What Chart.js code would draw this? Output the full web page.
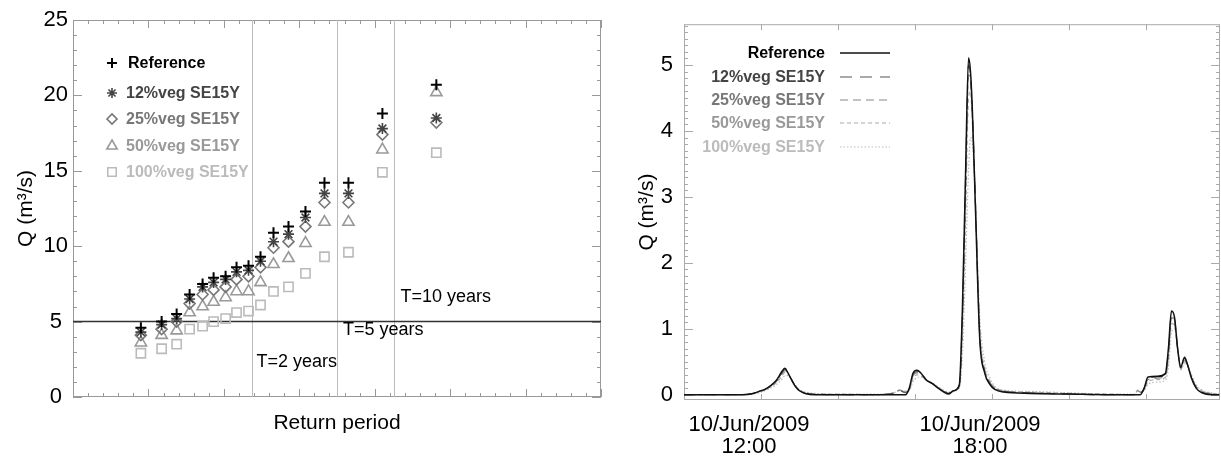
<!DOCTYPE html>
<html>
<head>
<meta charset="utf-8">
<script src="https://cdn.jsdelivr.net/npm/chart.js@4/dist/chart.umd.min.js"></script>
<style>
  body { margin: 0; background: #fff; width: 1221px; height: 459px; position: relative; overflow: hidden; }
  canvas { position: absolute; top: 0; }
  #left { left: 0; }
  #right { left: 620px; }
</style>
</head>
<body>
<canvas id="left" width="620" height="459"></canvas>
<canvas id="right" width="601" height="459"></canvas>
<script>
// ---- left panel: peak discharge vs return period (Gumbel reduced variate) ----
const seriesNames = ['Reference', '12%veg SE15Y', '25%veg SE15Y', '50%veg SE15Y', '100%veg SE15Y'];
const returnX = [-1.10, -0.825, -0.626, -0.454, -0.282, -0.136, 0.023, 0.168, 0.327, 0.486, 0.658, 0.857, 1.082, 1.334, 1.652, 2.102, 2.817];
const peakRef    = [4.6, 5.0, 5.5, 6.8, 7.5, 7.9, 8.0, 8.6, 8.7, 9.3, 10.9, 11.3, 12.3, 14.2, 14.2, 18.8, 20.7];
const peakVeg12  = [4.3, 4.8, 5.2, 6.5, 7.3, 7.6, 7.8, 8.3, 8.4, 9.0, 10.3, 10.8, 11.9, 13.5, 13.5, 17.8, 18.5];
const peakVeg25  = [4.1, 4.5, 5.0, 6.2, 6.8, 7.1, 7.3, 7.8, 8.0, 8.6, 9.9, 10.3, 11.3, 12.9, 12.9, 17.4, 18.2];
const peakVeg50  = [3.6, 4.1, 4.4, 5.6, 6.0, 6.3, 6.6, 7.0, 7.0, 7.6, 8.8, 9.2, 10.2, 11.6, 11.6, 16.4, 20.2];
const peakVeg100 = [2.9, 3.2, 3.5, 4.5, 4.7, 5.0, 5.2, 5.6, 5.7, 6.1, 7.0, 7.3, 8.2, 9.3, 9.6, 14.9, 16.2];
const peakSeries = [peakRef, peakVeg12, peakVeg25, peakVeg50, peakVeg100];
const returnLines = [0.367, 1.5, 2.25];
const returnLineLabels = ['T=2 years', 'T=5 years', 'T=10 years'];
const thresholdQ = 5;

// ---- right panel: hydrograph, hours of 10/Jun/2009 ----
const hours = [10.0, 11.0, 11.5, 11.8, 11.95, 12.1, 12.25, 12.4, 12.55, 12.62,
  12.7, 12.8, 12.9, 13.0, 13.15, 13.4, 14.0, 15.0, 15.45, 15.6,
  15.75, 15.85, 15.95, 16.05, 16.15, 16.3, 16.45, 16.6, 16.75, 16.87,
  17.0, 17.15, 17.23, 17.31, 17.39, 17.44, 17.49, 17.57, 17.68, 17.81,
  17.95, 18.07, 18.3, 19.0, 20.0, 21.0, 21.7, 21.78, 21.85, 21.95,
  22.05, 22.3, 22.5, 22.58, 22.66, 22.74, 22.82, 22.9, 23.0, 23.08,
  23.18, 23.3, 23.45, 23.7, 23.9];
const flowRef = [0, 0, 0, 0.02, 0.05, 0.08, 0.14, 0.22, 0.36, 0.40,
  0.33, 0.22, 0.12, 0.06, 0.02, 0, 0, 0, 0, 0,
  0, 0.10, 0.33, 0.37, 0.33, 0.22, 0.17, 0.10, 0.04, 0.01,
  0.06, 0.15, 1.3, 3.3, 5.11, 4.9, 4.3, 2.8, 0.85, 0.33,
  0.15, 0.08, 0.04, 0.02, 0.01, 0, 0, 0, 0, 0.1,
  0.27, 0.28, 0.32, 0.7, 1.27, 1.17, 0.7, 0.42, 0.57, 0.45,
  0.25, 0.1, 0.03, 0, 0];
const flowVeg12 = [0, 0, 0, 0.02, 0.05, 0.08, 0.13, 0.21, 0.34, 0.39,
  0.33, 0.22, 0.12, 0.06, 0.02, 0.01, 0, 0, 0.02, 0.06,
  0.03, 0.09, 0.31, 0.35, 0.32, 0.22, 0.17, 0.10, 0.05, 0.02,
  0.06, 0.14, 1.2, 3.2, 5.0, 4.85, 4.3, 2.9, 0.9, 0.35,
  0.17, 0.09, 0.05, 0.03, 0.01, 0, 0, 0.05, 0.03, 0.09,
  0.25, 0.27, 0.3, 0.65, 1.22, 1.14, 0.7, 0.41, 0.55, 0.45,
  0.26, 0.11, 0.04, 0.01, 0];
const flowVeg25 = [0, 0, 0, 0.02, 0.05, 0.08, 0.13, 0.2, 0.32, 0.37,
  0.32, 0.22, 0.12, 0.06, 0.03, 0.01, 0, 0, 0.03, 0.07,
  0.04, 0.08, 0.29, 0.33, 0.31, 0.22, 0.17, 0.11, 0.05, 0.02,
  0.06, 0.13, 1.1, 3.0, 4.85, 4.75, 4.2, 2.9, 0.95, 0.37,
  0.18, 0.1, 0.05, 0.03, 0.01, 0, 0, 0.06, 0.04, 0.08,
  0.23, 0.25, 0.28, 0.6, 1.17, 1.1, 0.7, 0.4, 0.53, 0.44,
  0.27, 0.12, 0.05, 0.01, 0];
const flowVeg50 = [0, 0, 0, 0.02, 0.04, 0.07, 0.12, 0.18, 0.29, 0.34,
  0.31, 0.22, 0.13, 0.07, 0.03, 0.01, 0.01, 0, 0.03, 0.07,
  0.05, 0.07, 0.25, 0.30, 0.29, 0.22, 0.17, 0.11, 0.06, 0.03,
  0.06, 0.12, 0.9, 2.6, 4.5, 4.6, 4.1, 2.9, 1.0, 0.4,
  0.2, 0.11, 0.06, 0.04, 0.02, 0.01, 0, 0.07, 0.05, 0.07,
  0.2, 0.23, 0.26, 0.52, 1.08, 1.05, 0.68, 0.38, 0.5, 0.44,
  0.28, 0.13, 0.06, 0.02, 0.01];
const flowVeg100 = [0, 0, 0, 0.01, 0.03, 0.06, 0.1, 0.15, 0.24, 0.29,
  0.29, 0.22, 0.14, 0.08, 0.04, 0.02, 0.01, 0.01, 0.03, 0.06,
  0.05, 0.06, 0.2, 0.26, 0.27, 0.22, 0.18, 0.12, 0.07, 0.04,
  0.06, 0.1, 0.6, 1.9, 3.4, 3.9, 3.8, 2.9, 1.2, 0.5,
  0.25, 0.13, 0.07, 0.05, 0.03, 0.01, 0.01, 0.06, 0.05, 0.06,
  0.16, 0.19, 0.22, 0.4, 0.95, 1.0, 0.68, 0.38, 0.47, 0.43,
  0.3, 0.15, 0.07, 0.03, 0.01];
const flowSeries = [flowRef, flowVeg12, flowVeg25, flowVeg50, flowVeg100];
const timeTickHours = [12, 18];
const timeTickText = [['10/Jun/2009', '12:00'], ['10/Jun/2009', '18:00']];

// styles
const FONT = "'Liberation Sans', Arial, Helvetica, sans-serif";
Chart.defaults.font.family = FONT;
Chart.defaults.color = '#000';
const markerStyles = ['cross', 'star', 'rectRot', 'triangle', 'rect'];
const markerSizes = [5.5, 5.5, 5.5, 6.5, 6.5];
const markerColors = ['#000', '#444', '#777', '#999', '#bbb'];
const lineColors = ['#111', '#555', '#888', '#aaa', '#bbb'];
const lineDashes = [[], [12, 8], [8, 5], [4, 3], [1.5, 2]];
const legendTextColors = ['#000', '#444', '#777', '#999', '#bbb'];

// inward ticks on all four sides plus the box
function drawBox(chart, o) {
  const {ctx, chartArea: a, scales: {x, y}} = chart;
  ctx.save();
  ctx.strokeStyle = o.color;
  ctx.lineWidth = 1;
  ctx.strokeRect(a.left + 0.5, a.top + 0.5, a.right - a.left - 1, a.bottom - a.top - 1);
  ctx.beginPath();
  const isMajor = (v, step) => Math.abs(v / step - Math.round(v / step)) < 1e-6;
  for (let k = Math.ceil(x.min / o.xMinor - 1e-9); k * o.xMinor <= x.max + 1e-9; k++) {
    const v = k * o.xMinor;
    const len = isMajor(v, o.xMajor) ? o.xLen : o.minLen;
    const px = Math.round(x.getPixelForValue(v)) + 0.5;
    ctx.moveTo(px, a.bottom); ctx.lineTo(px, a.bottom - len);
    ctx.moveTo(px, a.top); ctx.lineTo(px, a.top + len);
  }
  for (let k = Math.ceil(y.min / o.yMinor - 1e-9); k * o.yMinor <= y.max + 1e-9; k++) {
    const v = k * o.yMinor;
    const len = isMajor(v, o.yMajor) ? o.yLen : o.minLen;
    const py = Math.round(y.getPixelForValue(v)) + 0.5;
    ctx.moveTo(a.left, py); ctx.lineTo(a.left + len, py);
    ctx.moveTo(a.right, py); ctx.lineTo(a.right - len, py);
  }
  ctx.stroke();
  ctx.restore();
}

const leftDecor = {
  id: 'leftDecor',
  beforeDatasetsDraw(chart) {
    const {ctx, chartArea: a, scales: {x, y}} = chart;
    drawBox(chart, {color: '#999', xMajor: 1, xMinor: 0.2, yMajor: 5, yMinor: 1, xLen: 8, yLen: 9, minLen: 4});
    ctx.save();
    // return period lines
    ctx.strokeStyle = '#bbb';
    ctx.lineWidth = 1;
    ctx.beginPath();
    returnLines.forEach(v => {
      const px = Math.round(x.getPixelForValue(v)) + 0.5;
      ctx.moveTo(px, a.top); ctx.lineTo(px, a.bottom);
    });
    ctx.stroke();
    // threshold
    ctx.strokeStyle = '#333';
    ctx.lineWidth = 1.5;
    ctx.beginPath();
    const py = y.getPixelForValue(thresholdQ);
    ctx.moveTo(a.left, py); ctx.lineTo(a.right, py);
    ctx.stroke();
    // labels
    ctx.fillStyle = '#000';
    ctx.font = '18px ' + FONT;
    ctx.textBaseline = 'middle';
    const labelQ = [2.32, 4.44, 6.63];
    returnLines.forEach((v, i) => {
      ctx.fillText(returnLineLabels[i], x.getPixelForValue(v) + 5 + i, y.getPixelForValue(labelQ[i]));
    });
    ctx.restore();
  },
  afterDraw(chart) {
    const ctx = chart.ctx;
    const rows = [63, 93, 119, 146, 172];
    ctx.save();
    ctx.font = 'bold 16px ' + FONT;
    ctx.textBaseline = 'middle';
    seriesNames.forEach((name, i) => {
      ctx.strokeStyle = markerColors[i];
      ctx.fillStyle = 'rgba(0,0,0,0)';
      ctx.lineWidth = i === 0 ? 2 : 1.6;
      Chart.helpers.drawPoint(ctx, {pointStyle: markerStyles[i], radius: markerSizes[i] - 0.5, rotation: 0, borderWidth: ctx.lineWidth}, 112, rows[i]);
      ctx.fillStyle = legendTextColors[i];
      ctx.fillText(name, i === 0 ? 128 : 126, rows[i] + 1);
    });
    ctx.restore();
  }
};

new Chart(document.getElementById('left'), {
  type: 'scatter',
  data: {
    datasets: peakSeries.map((vals, i) => ({
      label: seriesNames[i],
      data: returnX.map((rx, k) => ({x: rx, y: vals[k]})),
      pointStyle: markerStyles[i],
      pointRadius: markerSizes[i],
      pointBorderWidth: i === 0 ? 2 : 1.6,
      borderColor: markerColors[i],
      backgroundColor: 'rgba(0,0,0,0)'
    }))
  },
  options: {
    responsive: false,
    animation: false,
    devicePixelRatio: 1,
    layout: {padding: {top: 20, right: 19, left: 0, bottom: 0}},
    plugins: {legend: {display: false}, tooltip: {enabled: false}},
    scales: {
      x: {
        type: 'linear', min: -2, max: 5,
        grid: {display: false, tickLength: 0}, border: {display: false},
        ticks: {display: false},
        title: {display: true, text: 'Return period', font: {size: 21}, color: '#000', padding: {top: 0, bottom: 23}},
        afterFit: s => { s.height = 62; }
      },
      y: {
        type: 'linear', min: 0, max: 25,
        grid: {display: false, tickLength: 0}, border: {display: false},
        ticks: {stepSize: 5, font: {size: 22}, color: '#000', padding: 5, crossAlign: 'center'},
        title: {display: true, text: 'Q (m³/s)', font: {size: 21}, color: '#000', padding: {top: 14, bottom: 0}},
        afterFit: s => { s.width = 73; }
      }
    }
  },
  plugins: [leftDecor]
});

const rightDecor = {
  id: 'rightDecor',
  beforeDatasetsDraw(chart) {
    drawBox(chart, {color: '#aaa', xMajor: 2, xMinor: 2, yMajor: 1, yMinor: 0.1, xLen: 6, yLen: 9, minLen: 4});
  },
  afterDraw(chart) {
    const ctx = chart.ctx;
    const rows = [53, 77, 100, 123, 147];
    ctx.save();
    ctx.font = 'bold 16px ' + FONT;
    ctx.textBaseline = 'middle';
    ctx.textAlign = 'right';
    seriesNames.forEach((name, i) => {
      ctx.fillStyle = legendTextColors[i];
      ctx.fillText(name, 205, rows[i] + 1);
      ctx.strokeStyle = lineColors[i];
      ctx.lineWidth = i === 0 ? 1.5 : 1.2;
      ctx.setLineDash(lineDashes[i]);
      ctx.beginPath();
      ctx.moveTo(220, rows[i]); ctx.lineTo(270, rows[i]);
      ctx.stroke();
    });
    ctx.restore();
  }
};

new Chart(document.getElementById('right'), {
  type: 'line',
  data: {
    datasets: flowSeries.map((vals, i) => ({
      label: seriesNames[i],
      data: hours.map((h, k) => ({x: h, y: vals[k]})),
      borderColor: lineColors[i],
      borderWidth: i === 0 ? 1.5 : 1.2,
      borderDash: lineDashes[i],
      pointRadius: 0,
      fill: false,
      cubicInterpolationMode: 'monotone'
    }))
  },
  options: {
    responsive: false,
    animation: false,
    devicePixelRatio: 1,
    layout: {padding: {top: 21, right: 1, left: 0, bottom: 0}},
    plugins: {legend: {display: false}, tooltip: {enabled: false}},
    scales: {
      x: {
        type: 'linear', min: 10, max: 23.92,
        grid: {display: false, tickLength: 0}, border: {display: false},
        ticks: {
          stepSize: 2, autoSkip: false, maxRotation: 0, includeBounds: false,
          font: {size: 22, lineHeight: 1.0}, color: '#000', padding: 14, labelOffset: -12,
          callback: v => {
            const i = timeTickHours.indexOf(v);
            return i >= 0 ? timeTickText[i] : '';
          }
        },
        afterFit: s => { s.height = 59; }
      },
      y: {
        type: 'linear', min: -0.08, max: 5.62,
        grid: {display: false, tickLength: 0}, border: {display: false},
        ticks: {stepSize: 1, includeBounds: false, font: {size: 22}, color: '#000', padding: 11},
        title: {display: true, text: 'Q (m³/s)', font: {size: 21}, color: '#000', padding: {top: 15, bottom: 0}},
        afterFit: s => { s.width = 64; }
      }
    }
  },
  plugins: [rightDecor]
});
</script>
</body>
</html>
